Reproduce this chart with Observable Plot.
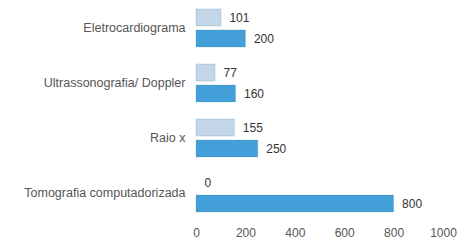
<!DOCTYPE html>
<html>
<head>
<meta charset="utf-8">
<script src="https://cdn.jsdelivr.net/npm/d3@7"></script>
<script src="https://cdn.jsdelivr.net/npm/@observablehq/plot@0.6"></script>
<style>
  html, body { margin: 0; padding: 0; background: #fff; }
  #chart svg { display: block; }
</style>
</head>
<body>
<div id="chart"></div>
<script>
const categories = ["Eletrocardiograma", "Ultrassonografia/ Doppler", "Raio x", "Tomografia computadorizada"];
const seriesNames = ["Série 1", "Série 2"];
const series1 = [101, 77, 155, 0];
const series2 = [200, 160, 250, 800];
const xTicks = [0, 200, 400, 600, 800, 1000];
const colors = ["#c3d7e9", "#429fd8"];

const data = [];
categories.forEach((c, i) => {
  data.push({cat: c, serie: seriesNames[0], value: series1[i]});
  data.push({cat: c, serie: seriesNames[1], value: series2[i]});
});

const chart = Plot.plot({
  width: 462,
  height: 241,
  marginLeft: 196,
  marginRight: 19,
  marginTop: 0,
  marginBottom: 21,
  style: {fontFamily: "Liberation Sans, Arial, sans-serif", fontSize: "12px", color: "#444"},
  x: {domain: [0, 1000], label: null},
  fy: {domain: categories, padding: 0, label: null},
  y: {domain: seriesNames, paddingInner: 0.2, paddingOuter: 0.375, axis: null},
  color: {domain: seriesNames, range: colors},
  marks: [
    Plot.axisX({ticks: xTicks, tickFormat: d => String(d), tickSize: 0, tickPadding: 8, label: null, fill: "#555", fontSize: 12}),
    Plot.axisFy({anchor: "left", tickSize: 0, tickPadding: 11, label: null, fill: "#555", fontSize: 12.5}),
    Plot.barX(data, {fy: "cat", y: "serie", x: "value", fill: "serie", stroke: "#5b88a8", strokeOpacity: 0.25}),
    Plot.text(data, {fy: "cat", y: "serie", x: "value", text: d => String(d.value), dx: 8, textAnchor: "start", fill: "#333", fontSize: 12})
  ]
});
document.getElementById("chart").appendChild(chart);
</script>
</body>
</html>
